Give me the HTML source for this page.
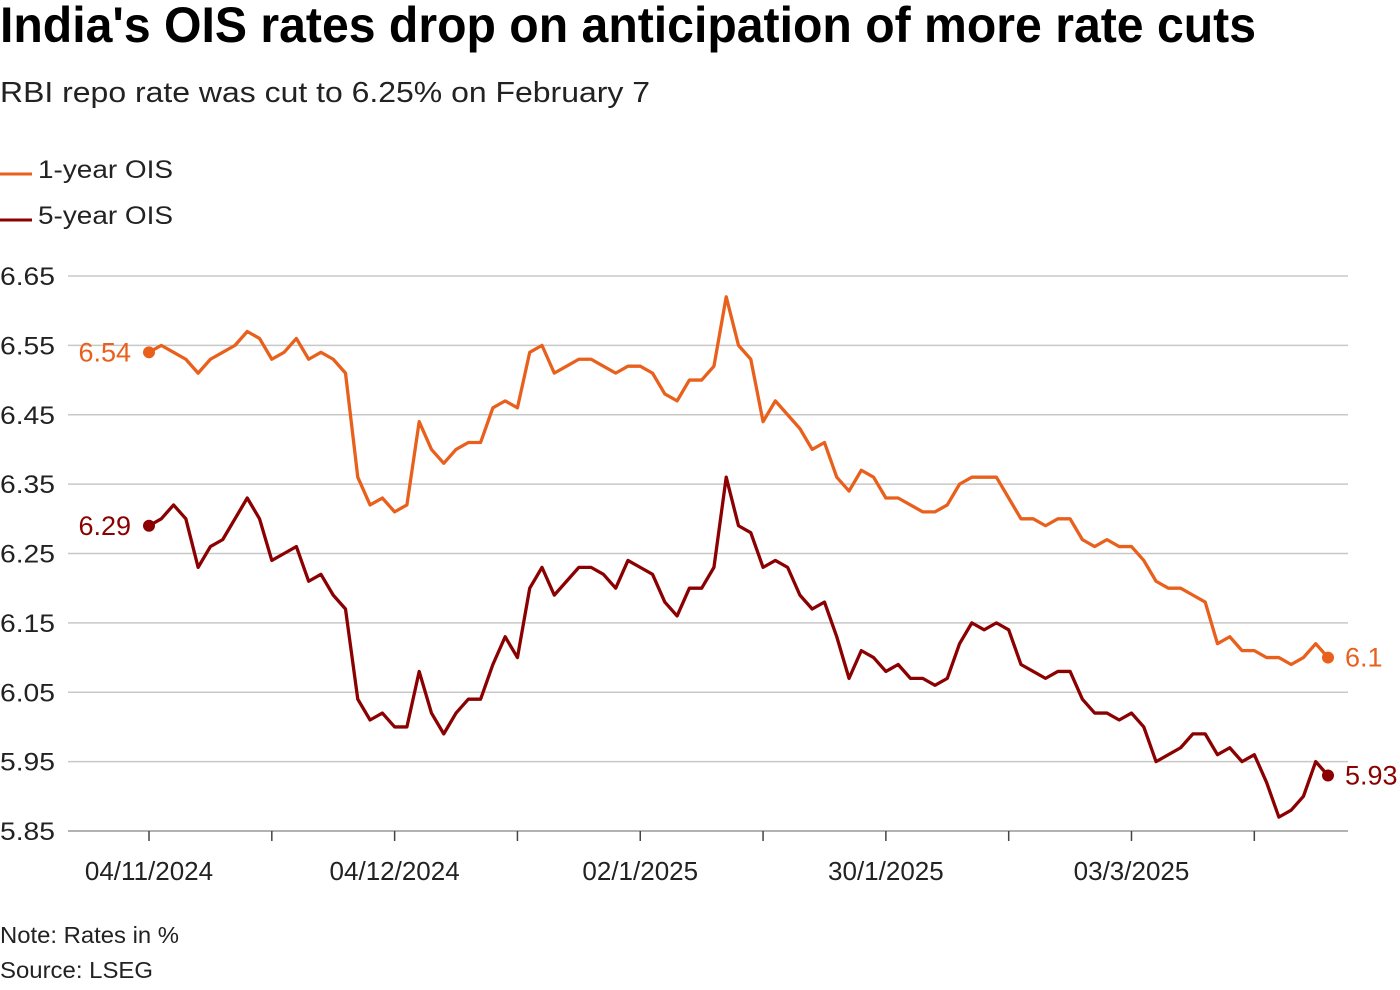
<!DOCTYPE html>
<html><head><meta charset="utf-8"><style>
html,body{margin:0;padding:0;background:#fff;}
svg{display:block;font-family:"Liberation Sans",Arial,sans-serif;}
</style></head><body>
<svg id="chart" width="1400" height="990" viewBox="0 0 1400 990">
<text x="0" y="42" font-size="50" font-weight="bold" fill="#000" textLength="1256" lengthAdjust="spacingAndGlyphs">India's OIS rates drop on anticipation of more rate cuts</text>
<text x="0" y="102" font-size="29" fill="#222" textLength="650" lengthAdjust="spacingAndGlyphs">RBI repo rate was cut to 6.25% on February 7</text>
<g>
<line x1="0" y1="174" x2="32" y2="174" stroke="#e8601c" stroke-width="3"/>
<text x="38" y="178" font-size="25" fill="#222" textLength="135" lengthAdjust="spacingAndGlyphs">1-year OIS</text>
</g>
<g>
<line x1="0" y1="220" x2="32" y2="220" stroke="#8b0000" stroke-width="3"/>
<text x="38" y="224" font-size="25" fill="#222" textLength="135" lengthAdjust="spacingAndGlyphs">5-year OIS</text>
</g>
<g id="grid"></g><g id="xaxis"></g><g id="lines"></g>
<text x="0" y="943" font-size="23" fill="#222" textLength="179" lengthAdjust="spacingAndGlyphs">Note: Rates in %</text>
<text x="0" y="978" font-size="23" fill="#222" textLength="153" lengthAdjust="spacingAndGlyphs">Source: LSEG</text>
</svg>
<script>
const yTicks = [6.65, 6.55, 6.45, 6.35, 6.25, 6.15, 6.05, 5.95, 5.85];
const yTickLabels = ["6.65","6.55","6.45","6.35","6.25","6.15","6.05","5.95","5.85"];
const xLabelIndex = [0, 20, 40, 60, 80];
const xLabels = ["04/11/2024","04/12/2024","02/1/2025","30/1/2025","03/3/2025"];
const oneYear = [6.54,6.55,6.54,6.53,6.51,6.53,6.54,6.55,6.57,6.56,6.53,6.54,6.56,6.53,6.54,6.53,6.51,6.36,6.32,6.33,6.31,6.32,6.44,6.40,6.38,6.40,6.41,6.41,6.46,6.47,6.46,6.54,6.55,6.51,
6.52,6.53,6.53,6.52,6.51,6.52,6.52,6.51,6.48,6.47,6.50,6.50,6.52,6.62,6.55,6.53,6.44,6.47,6.45,6.43,6.40,6.41,6.36,6.34,6.37,6.36,6.33,6.33,6.32,6.31,6.31,6.32,6.35,
6.36,6.36,6.36,6.33,6.30,6.30,6.29,6.30,6.30,6.27,6.26,6.27,6.26,6.26,6.24,6.21,6.20,6.20,6.19,6.18,6.12,6.13,6.11,6.11,6.10,6.10,6.09,6.10,6.12,6.10];
const fiveYear = [6.29,6.30,6.32,6.30,6.23,6.26,6.27,6.30,6.33,6.30,6.24,6.25,6.26,6.21,6.22,6.19,6.17,6.04,6.01,6.02,6.00,6.00,6.08,6.02,5.99,6.02,6.04,6.04,6.09,6.13,6.10,6.20,6.23,6.19,
6.21,6.23,6.23,6.22,6.20,6.24,6.23,6.22,6.18,6.16,6.20,6.20,6.23,6.36,6.29,6.28,6.23,6.24,6.23,6.19,6.17,6.18,6.13,6.07,6.11,6.10,6.08,6.09,6.07,6.07,6.06,6.07,6.12,
6.15,6.14,6.15,6.14,6.09,6.08,6.07,6.08,6.08,6.04,6.02,6.02,6.01,6.02,6.00,5.95,5.96,5.97,5.99,5.99,5.96,5.97,5.95,5.96,5.92,5.87,5.88,5.90,5.95,5.93];

const NS = "http://www.w3.org/2000/svg";
const X0 = 149, X1 = 1328, Y0 = 276, Y1 = 831;
const n = oneYear.length;
function xs(i){ return X0 + (X1 - X0) * i / (n - 1); }
function ys(v){ return Y0 + (6.65 - v) / 0.8 * (Y1 - Y0); }
function mk(tag, attrs, parent){ const e=document.createElementNS(NS,tag); for(const k in attrs) e.setAttribute(k, attrs[k]); parent.appendChild(e); return e; }

const grid = document.getElementById('grid');
yTicks.forEach((t, k) => {
  const l = mk('line', {x1:68, x2:1348, y1:ys(t), y2:ys(t), stroke: k===yTicks.length-1 ? '#999' : '#c8c8c8', 'stroke-width':1.5}, grid);
  
  
  const tx = mk('text', {x:0, y:ys(t)+9, 'font-size':25, fill:'#222', textLength:55, lengthAdjust:'spacingAndGlyphs'}, grid);
  tx.textContent = yTickLabels[k];
  
  
});
const xa = document.getElementById('xaxis');
for (let i = 0; i < n; i += 10) {
  const tk = mk('line', {x1:xs(i), x2:xs(i), y1:831, y2:841, stroke:'#444', 'stroke-width':1.5}, xa);
  
  
}
xLabelIndex.forEach((idx, k) => {
  const tx = mk('text', {x:xs(idx), y:880, 'font-size':26, fill:'#222', 'text-anchor':'middle'}, xa);
  tx.textContent = xLabels[k];
  
  
});
const lines = document.getElementById('lines');
function series(data, color, name, startLbl, endLbl){
  const p = mk('polyline', {points: data.map((v,i)=>xs(i)+','+ys(v)).join(' '), fill:'none', stroke:color, 'stroke-width':3.3, 'stroke-linejoin':'round'}, lines);
  
  
  [0, n-1].forEach(i => {
    const c = mk('circle', {cx:xs(i), cy:ys(data[i]), r:6, fill:color}, lines);
    
    
  });
  const a = mk('text', {x:131, y:ys(data[0])+9, 'font-size':27, fill:color, 'text-anchor':'end'}, lines);
  a.textContent = startLbl;
  
  
  const b = mk('text', {x:1345, y:ys(data[n-1])+9, 'font-size':27, fill:color}, lines);
  b.textContent = endLbl;
  
  
}
series(oneYear, '#e8601c', 'one-year-ois', String(oneYear[0]), String(oneYear[n-1]));
series(fiveYear, '#8b0000', 'five-year-ois', String(fiveYear[0]), String(fiveYear[n-1]));
</script>
</body></html>
